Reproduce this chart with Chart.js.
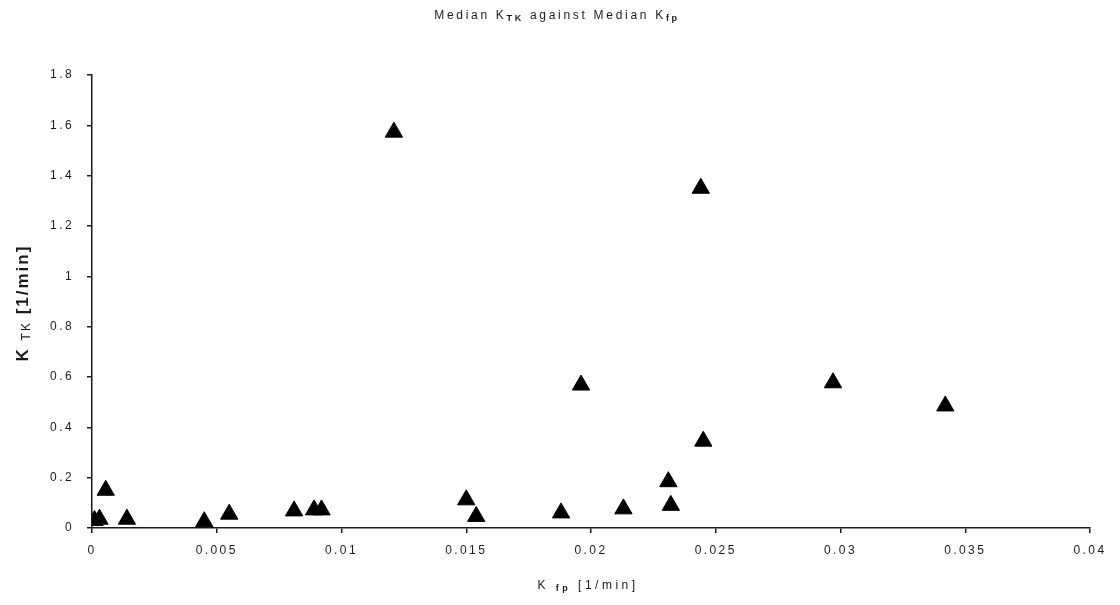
<!DOCTYPE html>
<html>
<head>
<meta charset="utf-8">
<title>Median KTK against Median Kfp</title>
<script src="https://cdn.jsdelivr.net/npm/chart.js@4/dist/chart.umd.min.js"></script>
<style>
    body { margin: 0; background: #fff; }
    #wrap { width: 1120px; height: 605px; }
</style>
</head>
<body>
<div id="wrap"><canvas id="kChart" width="1120" height="605"></canvas></div>
<script>
// Median K_fp (x) and median K_TK (y), both in 1/min
const kFp = [0.0001, 0.0003, 0.00055, 0.0014, 0.0045, 0.0055, 0.0081, 0.0089, 0.0092,
             0.0121, 0.0150, 0.0154, 0.0188, 0.0196, 0.0213, 0.0231, 0.0232, 0.0244,
             0.0245, 0.0297, 0.0342];
const kTk = [0.030, 0.035, 0.150, 0.035, 0.025, 0.055, 0.068, 0.072, 0.072,
             1.573, 0.112, 0.046, 0.060, 0.568, 0.076, 0.184, 0.090, 1.350,
             0.345, 0.577, 0.485];

const xTicks = [0, 0.005, 0.01, 0.015, 0.02, 0.025, 0.03, 0.035, 0.04];
const yTicks = [0, 0.2, 0.4, 0.6, 0.8, 1, 1.2, 1.4, 1.6, 1.8];

const points = kFp.map((x, i) => ({ x: x, y: kTk[i] }));

const FONT = "'Liberation Sans', Arial, sans-serif";
const INK = '#1a1a1a';
const TICK_SPACING = '2.4px';

// draw a line of text made of pieces (for subscripts), centred on cx
function drawPieces(ctx, pieces, cx, cy, spacing) {
    ctx.letterSpacing = spacing;
    let total = 0;
    pieces.forEach(p => { ctx.font = p.font; p.w = ctx.measureText(p.text).width; total += p.w; });
    let x = cx - total / 2;
    pieces.forEach(p => {
        ctx.font = p.font;
        ctx.fillText(p.text, x, cy + (p.dy || 0));
        x += p.w;
    });
}

const spacingPlugin = {
    id: 'spacing',
    beforeUpdate(chart) { chart.ctx.letterSpacing = TICK_SPACING; },
    beforeDraw(chart) {
        const ctx = chart.ctx;
        ctx.save();
        ctx.fillStyle = '#fff';
        ctx.fillRect(0, 0, chart.width, chart.height);
        ctx.restore();
        ctx.letterSpacing = TICK_SPACING;
    }
};

const labelsPlugin = {
    id: 'labels',
    afterDraw(chart) {
        const ctx = chart.ctx;
        ctx.save();
        ctx.fillStyle = INK;
        ctx.textBaseline = 'middle';
        ctx.textAlign = 'left';

        // title
        drawPieces(ctx, [
            { text: 'Median K', font: '12px ' + FONT },
            { text: 'TK', font: 'bold 9px ' + FONT, dy: 3 },
            { text: ' against Median K', font: '12px ' + FONT },
            { text: 'fp', font: 'bold 9px ' + FONT, dy: 3 }
        ], 557, 16, '2.7px');

        // x axis title
        drawPieces(ctx, [
            { text: 'K ', font: '12px ' + FONT },
            { text: 'fp', font: 'bold 9px ' + FONT, dy: 3 },
            { text: ' [1/min]', font: '12px ' + FONT }
        ], 588, 586, '3.5px');

        // y axis title, rotated
        ctx.translate(23, 303);
        ctx.rotate(-Math.PI / 2);
        drawPieces(ctx, [
            { text: 'K ', font: 'bold 17px ' + FONT },
            { text: 'TK', font: '12px ' + FONT, dy: 4 },
            { text: ' [1/min]', font: 'bold 17px ' + FONT }
        ], 0, 0, '2px');
        ctx.restore();
    }
};

const fmt = v => String(+v.toFixed(4));

new Chart(document.getElementById('kChart').getContext('2d'), {
    type: 'scatter',
    data: {
        datasets: [{
            label: 'Median K',
            data: points,
            pointStyle: 'triangle',
            pointRadius: 10,
            pointHoverRadius: 10,
            backgroundColor: '#000',
            borderColor: '#000',
            borderWidth: 1
        }]
    },
    options: {
        responsive: false,
        animation: false,
        layout: { padding: { top: 75, right: 30, left: 0, bottom: 0 } },
        plugins: {
            legend: { display: false },
            title: { display: false },
            tooltip: { enabled: false }
        },
        scales: {
            x: {
                type: 'linear',
                min: 0,
                max: 0.04,
                afterFit: s => { s.height = 77; },
                afterBuildTicks: s => { s.ticks = xTicks.map(v => ({ value: v })); },
                ticks: {
                    callback: fmt,
                    color: INK,
                    padding: 10,
                    maxRotation: 0,
                    font: { family: FONT, size: 12 }
                },
                grid: { drawOnChartArea: false, color: INK, tickLength: 5, lineWidth: 1.5 },
                border: { color: INK, width: 1.5 }
            },
            y: {
                min: 0,
                max: 1.8,
                afterFit: s => { s.width = 92; },
                afterBuildTicks: s => { s.ticks = yTicks.map(v => ({ value: v })); },
                ticks: {
                    callback: fmt,
                    color: INK,
                    padding: 13,
                    font: { family: FONT, size: 12 }
                },
                grid: { drawOnChartArea: false, color: INK, tickLength: 5, lineWidth: 1.5 },
                border: { color: INK, width: 1.5 }
            }
        }
    },
    plugins: [spacingPlugin, labelsPlugin]
});
</script>
</body>
</html>
